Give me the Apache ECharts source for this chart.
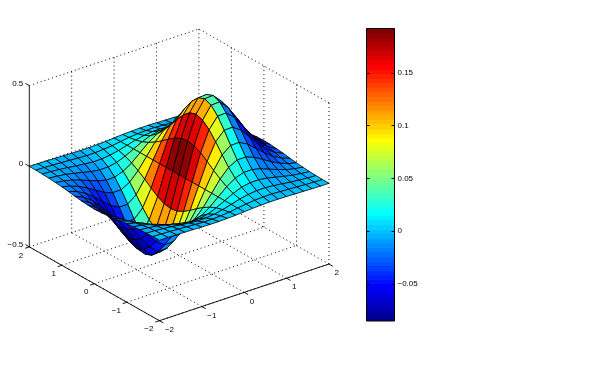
<!DOCTYPE html>
<html><head><meta charset="utf-8">
<style>html,body{margin:0;padding:0;background:#fff}#c{width:598px;height:369px}</style>
<script src="https://cdn.jsdelivr.net/npm/echarts@6/dist/echarts.min.js"></script>
</head><body><div id="c"></div>
<script>
const xs=[-2,-1.8,-1.6,-1.4,-1.2,-1,-.8,-.6,-.4,-.2,0,.2,.4,.6,.8,1,1.2,1.4,1.6,1.8,2];
const ys=[-2,-1.8,-1.6,-1.4,-1.2,-1,-.8,-.6,-.4,-.2,0,.2,.4,.6,.8,1,1.2,1.4,1.6,1.8,2];
const heights=[
[-.001,-.001,-.002,-.004,-.005,-.007,-.008,-.008,-.006,-.004,0,.004,.006,.008,.008,.007,.005,.004,.002,.001,.001],
[-.001,-.003,-.005,-.008,-.011,-.014,-.017,-.016,-.013,-.008,0,.008,.013,.016,.017,.014,.011,.008,.005,.003,.001],
[-.003,-.005,-.01,-.015,-.022,-.028,-.033,-.032,-.026,-.015,0,.015,.026,.032,.033,.028,.022,.015,.01,.005,.003],
[-.005,-.01,-.017,-.028,-.04,-.052,-.059,-.059,-.048,-.027,0,.027,.048,.059,.059,.052,.04,.028,.017,.01,.005],
[-.009,-.017,-.029,-.047,-.067,-.087,-.1,-.099,-.081,-.046,0,.046,.081,.099,.1,.087,.067,.047,.029,.017,.009],
[-.013,-.026,-.046,-.073,-.105,-.135,-.155,-.154,-.125,-.071,0,.071,.125,.154,.155,.135,.105,.073,.046,.026,.013],
[-.019,-.037,-.065,-.104,-.15,-.194,-.222,-.221,-.18,-.101,0,.101,.18,.221,.222,.194,.15,.104,.065,.037,.019],
[-.026,-.049,-.086,-.138,-.198,-.257,-.294,-.292,-.238,-.134,0,.134,.238,.292,.294,.257,.198,.138,.086,.049,.026],
[-.031,-.06,-.105,-.168,-.242,-.313,-.359,-.357,-.29,-.164,0,.164,.29,.357,.359,.313,.242,.168,.105,.06,.031],
[-.035,-.068,-.119,-.189,-.273,-.353,-.405,-.402,-.327,-.185,0,.185,.327,.402,.405,.353,.273,.189,.119,.068,.035],
[-.037,-.071,-.124,-.197,-.284,-.368,-.422,-.419,-.341,-.192,0,.192,.341,.419,.422,.368,.284,.197,.124,.071,.037],
[-.035,-.068,-.119,-.189,-.273,-.353,-.405,-.402,-.327,-.185,0,.185,.327,.402,.405,.353,.273,.189,.119,.068,.035],
[-.031,-.06,-.105,-.168,-.242,-.313,-.359,-.357,-.29,-.164,0,.164,.29,.357,.359,.313,.242,.168,.105,.06,.031],
[-.026,-.049,-.086,-.138,-.198,-.257,-.294,-.292,-.238,-.134,0,.134,.238,.292,.294,.257,.198,.138,.086,.049,.026],
[-.019,-.037,-.065,-.104,-.15,-.194,-.222,-.221,-.18,-.101,0,.101,.18,.221,.222,.194,.15,.104,.065,.037,.019],
[-.013,-.026,-.046,-.073,-.105,-.135,-.155,-.154,-.125,-.071,0,.071,.125,.154,.155,.135,.105,.073,.046,.026,.013],
[-.009,-.017,-.029,-.047,-.067,-.087,-.1,-.099,-.081,-.046,0,.046,.081,.099,.1,.087,.067,.047,.029,.017,.009],
[-.005,-.01,-.017,-.028,-.04,-.052,-.059,-.059,-.048,-.027,0,.027,.048,.059,.059,.052,.04,.028,.017,.01,.005],
[-.003,-.005,-.01,-.015,-.022,-.028,-.033,-.032,-.026,-.015,0,.015,.026,.032,.033,.028,.022,.015,.01,.005,.003],
[-.001,-.003,-.005,-.008,-.011,-.014,-.017,-.016,-.013,-.008,0,.008,.013,.016,.017,.014,.011,.008,.005,.003,.001],
[-.001,-.001,-.002,-.004,-.005,-.007,-.008,-.008,-.006,-.004,0,.004,.006,.008,.008,.007,.005,.004,.002,.001,.001]
];
const slopes=[
[-.001,-.001,-.001,-.001,-.002,-.001,0,.001,.002,.003,.004,.003,.002,.001,0,-.001,-.002,-.001,-.001,-.001,-.001],
[-.001,-.002,-.002,-.003,-.003,-.003,-.001,.002,.004,.007,.008,.007,.004,.002,-.001,-.003,-.003,-.003,-.002,-.002,-.001],
[-.003,-.003,-.005,-.006,-.007,-.005,-.002,.003,.009,.013,.015,.013,.009,.003,-.002,-.005,-.007,-.006,-.005,-.003,-.003],
[-.005,-.006,-.009,-.011,-.012,-.01,-.004,.006,.016,.024,.027,.024,.016,.006,-.004,-.01,-.012,-.011,-.009,-.006,-.005],
[-.008,-.01,-.015,-.019,-.02,-.016,-.006,.01,.027,.04,.046,.04,.027,.01,-.006,-.016,-.02,-.019,-.015,-.01,-.008],
[-.012,-.016,-.023,-.03,-.031,-.025,-.009,.015,.042,.063,.071,.063,.042,.015,-.009,-.025,-.031,-.03,-.023,-.016,-.012],
[-.018,-.023,-.033,-.042,-.045,-.036,-.013,.021,.06,.09,.101,.09,.06,.021,-.013,-.036,-.045,-.042,-.033,-.023,-.018],
[-.024,-.03,-.044,-.056,-.06,-.048,-.018,.028,.079,.119,.134,.119,.079,.028,-.018,-.048,-.06,-.056,-.044,-.03,-.024],
[-.029,-.037,-.054,-.068,-.073,-.059,-.022,.035,.096,.145,.164,.145,.096,.035,-.022,-.059,-.073,-.068,-.054,-.037,-.029],
[-.033,-.042,-.061,-.077,-.082,-.066,-.024,.039,.109,.164,.185,.164,.109,.039,-.024,-.066,-.082,-.077,-.061,-.042,-.033],
[-.034,-.044,-.063,-.08,-.085,-.069,-.025,.04,.113,.17,.192,.17,.113,.04,-.025,-.069,-.085,-.08,-.063,-.044,-.034],
[-.033,-.042,-.061,-.077,-.082,-.066,-.024,.039,.109,.164,.185,.164,.109,.039,-.024,-.066,-.082,-.077,-.061,-.042,-.033],
[-.029,-.037,-.054,-.068,-.073,-.059,-.022,.035,.096,.145,.164,.145,.096,.035,-.022,-.059,-.073,-.068,-.054,-.037,-.029],
[-.024,-.03,-.044,-.056,-.06,-.048,-.018,.028,.079,.119,.134,.119,.079,.028,-.018,-.048,-.06,-.056,-.044,-.03,-.024],
[-.018,-.023,-.033,-.042,-.045,-.036,-.013,.021,.06,.09,.101,.09,.06,.021,-.013,-.036,-.045,-.042,-.033,-.023,-.018],
[-.012,-.016,-.023,-.03,-.031,-.025,-.009,.015,.042,.063,.071,.063,.042,.015,-.009,-.025,-.031,-.03,-.023,-.016,-.012],
[-.008,-.01,-.015,-.019,-.02,-.016,-.006,.01,.027,.04,.046,.04,.027,.01,-.006,-.016,-.02,-.019,-.015,-.01,-.008],
[-.005,-.006,-.009,-.011,-.012,-.01,-.004,.006,.016,.024,.027,.024,.016,.006,-.004,-.01,-.012,-.011,-.009,-.006,-.005],
[-.003,-.003,-.005,-.006,-.007,-.005,-.002,.003,.009,.013,.015,.013,.009,.003,-.002,-.005,-.007,-.006,-.005,-.003,-.003],
[-.001,-.002,-.002,-.003,-.003,-.003,-.001,.002,.004,.007,.008,.007,.004,.002,-.001,-.003,-.003,-.003,-.002,-.002,-.001],
[-.001,-.001,-.001,-.001,-.002,-.001,0,.001,.002,.003,.004,.003,.002,.001,0,-.001,-.002,-.001,-.001,-.001,-.001]
];
const xTicks=[-2,-1,0,1,2];
const yTicks=[-2,-1,0,1,2];
const zTicks=[-.5,0,.5];
const barTicks=[-.05,0,.05,.1,.15];
const slopeMin=-.0853, slopeMax=.1922;
const levels=64;

const az=-37.5*Math.PI/180, el=30*Math.PI/180;
const ca=Math.cos(az), sa=Math.sin(az), se=Math.sin(el), ce=Math.cos(el);
const uMax=(Math.abs(ca)+Math.abs(sa))/2;
const vMax=(Math.abs(sa*se)+Math.abs(ca*se)+ce)/2;
function project(x,y,z){
  const X=x/4, Y=y/4;
  return [ca*X+sa*Y, -sa*se*X+ca*se*Y+ce*z];
}
const minus=s=>String(s).replace('-','\u2212');
function jet(i){ // i = 0..63
  const t=(i+1)/levels, f=k=>Math.round(255*Math.min(1,Math.max(0,1.5-Math.abs(4*t-k))));
  return 'rgb('+f(3)+','+f(2)+','+f(1)+')';
}
function colorOf(v){
  const i=Math.floor((v-slopeMin)/(slopeMax-slopeMin)*levels);
  return jet(Math.max(0,Math.min(levels-1,i)));
}

// box segments
const zLo=zTicks[0], zHi=zTicks[zTicks.length-1];
const xLo=xTicks[0], xHi=xTicks[xTicks.length-1];
const yLo=yTicks[0], yHi=yTicks[yTicks.length-1];
const dotted=[];
xTicks.forEach(x=>{
  if(x!==xLo && x!==xHi) dotted.push([x,yHi,zLo,x,yHi,zHi]);
  dotted.push([x,yLo,zLo,x,yHi,zLo]);
});
yTicks.forEach(y=>{
  dotted.push([xHi,y,zLo,xHi,y,zHi]);
  dotted.push([xLo,y,zLo,xHi,y,zLo]);
});
zTicks.forEach(z=>{
  if(z===zLo) return;
  dotted.push([xLo,yHi,z,xHi,yHi,z]);
  dotted.push([xHi,yLo,z,xHi,yHi,z]);
});
const solid=[[xLo,yLo,zLo,xHi,yLo,zLo],[xLo,yLo,zLo,xLo,yHi,zLo],[xLo,yHi,zLo,xLo,yHi,zHi]];
xTicks.forEach(x=>solid.push([x,yLo,zLo,x,yLo-.12,zLo]));
yTicks.forEach(y=>solid.push([xLo,y,zLo,xLo-.1,y,zLo]));
zTicks.forEach(z=>solid.push([xLo,yHi,z,xLo,yHi+.12,z]));

const cells=[];
for(let i=ys.length-2;i>=0;i--) for(let j=xs.length-2;j>=0;j--) cells.push([i,j]);

const labels=[];
xTicks.forEach(x=>labels.push({p:[x,yLo,zLo],t:minus(x),a:'left',dx:5.5,dy:9}));
yTicks.forEach(y=>labels.push({p:[xLo,y,zLo],t:minus(y),a:'right',dx:-6,dy:8.5}));
zTicks.forEach(z=>labels.push({p:[xLo,yHi,z],t:minus(z),a:'right',dx:-6,dy:-2.3}));

const segSeries=(data,style)=>({
  type:'custom',coordinateSystem:'cartesian2d',xAxisIndex:0,yAxisIndex:0,silent:true,clip:false,
  data:data,
  renderItem:(p,api)=>{
    const a=api.coord(project(api.value(0),api.value(1),api.value(2)));
    const b=api.coord(project(api.value(3),api.value(4),api.value(5)));
    return {type:'line',shape:{x1:a[0],y1:a[1],x2:b[0],y2:b[1]},style:style};
  }
});

const chart=echarts.init(document.getElementById('c'),null,{renderer:'canvas'});
chart.setOption({
  animation:false,backgroundColor:'#fff',
  grid:[
    {left:29.3,top:29,width:299.7,height:291.7,show:false},
    {left:366.5,top:28.5,width:28,height:292.5,show:true,borderColor:'#000',borderWidth:1,backgroundColor:'transparent',z:5}
  ],
  xAxis:[
    {gridIndex:0,type:'value',min:-uMax,max:uMax,show:false},
    {gridIndex:1,type:'value',min:0,max:1,show:false}
  ],
  yAxis:[
    {gridIndex:0,type:'value',min:-vMax,max:vMax,show:false},
    {gridIndex:1,type:'value',position:'right',min:slopeMin,max:slopeMax,z:6,
      axisLine:{show:false,onZero:false},splitLine:{show:false},
      axisTick:{show:true,inside:true,length:3,customValues:barTicks,lineStyle:{color:'#000',width:1}},
      axisLabel:{show:true,inside:false,margin:3,customValues:barTicks,color:'#000',fontFamily:'Liberation Sans',fontSize:8,formatter:v=>minus(v)}},
    {gridIndex:1,type:'value',position:'left',min:slopeMin,max:slopeMax,z:6,
      axisLine:{show:false,onZero:false},splitLine:{show:false},axisLabel:{show:false},
      axisTick:{show:true,inside:true,length:3,customValues:barTicks,lineStyle:{color:'#000',width:1}}}
  ],
  series:[
    segSeries(dotted,{stroke:'#000',lineWidth:1,lineDash:[1,3],fill:null}),
    {
      type:'custom',coordinateSystem:'cartesian2d',xAxisIndex:0,yAxisIndex:0,silent:true,clip:false,
      progressive:0,data:cells,
      renderItem:(p,api)=>{
        const i=api.value(0), j=api.value(1);
        const pts=[[i,j],[i,j+1],[i+1,j+1],[i+1,j]].map(q=>api.coord(project(xs[q[1]],ys[q[0]],heights[q[0]][q[1]])));
        return {type:'polygon',shape:{points:pts},style:{fill:colorOf(slopes[i][j]),stroke:'#000',lineWidth:.8,lineJoin:'round'}};
      }
    },
    segSeries(solid,{stroke:'#000',lineWidth:.9,fill:null}),
    {
      type:'custom',coordinateSystem:'cartesian2d',xAxisIndex:0,yAxisIndex:0,silent:true,clip:false,
      data:labels.map((l,k)=>[k]),
      renderItem:(p,api)=>{
        const l=labels[api.value(0)];
        const c=api.coord(project(l.p[0],l.p[1],l.p[2]));
        return {type:'text',x:c[0]+l.dx,y:c[1]+l.dy,style:{text:l.t,textAlign:l.a,textVerticalAlign:'middle',fill:'#000',font:'8px "Liberation Sans"'}};
      }
    },
    {
      type:'custom',coordinateSystem:'cartesian2d',xAxisIndex:1,yAxisIndex:1,silent:true,clip:false,
      z:1,progressive:0,
      data:Array.from({length:levels},(_,i)=>[i]),
      renderItem:(p,api)=>{
        const i=api.value(0), step=(slopeMax-slopeMin)/levels;
        const a=api.coord([0,slopeMin+i*step]), b=api.coord([1,slopeMin+(i+1)*step]);
        const top=Math.round(b[1]), bottom=Math.round(a[1]);
        return {type:'rect',shape:{x:a[0],y:top,width:b[0]-a[0],height:bottom-top},style:{fill:jet(i)}};
      }
    }
  ]
});
</script></body></html>
